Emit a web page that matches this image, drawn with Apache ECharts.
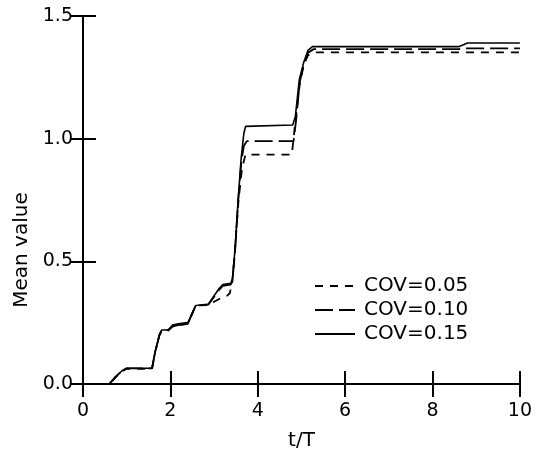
<!DOCTYPE html>
<html>
<head>
<meta charset="utf-8">
<script src="https://cdn.jsdelivr.net/npm/echarts@6/dist/echarts.min.js"></script>
<style>
  html, body { margin: 0; padding: 0; background: #fff; }
  #chart { width: 535px; height: 460px; }
</style>
</head>
<body>
<div id="chart"></div>
<script>
// Mean value versus normalised time t/T for three coefficients of variation
const seriesNames = ['COV=0.05', 'COV=0.10', 'COV=0.15'];

const tCov05 = [0, 0.60, 0.75, 0.90, 1.00, 1.58, 1.65, 1.75, 1.80, 1.95, 2.05, 2.18, 2.40, 2.48, 2.58, 2.62, 2.87, 3.00, 3.15, 3.30, 3.36, 3.42, 3.48, 3.56, 3.64, 3.72, 4.78, 4.86, 4.96, 5.05, 5.15, 5.30, 10];
const vCov05 = [0, 0, 0.028, 0.052, 0.062, 0.062, 0.13, 0.20, 0.215, 0.218, 0.235, 0.24, 0.245, 0.28, 0.32, 0.326, 0.322, 0.335, 0.35, 0.36, 0.37, 0.42, 0.55, 0.75, 0.88, 0.935, 0.935, 1.07, 1.22, 1.30, 1.34, 1.352, 1.352];

const tCov10 = [0, 0.60, 0.75, 0.90, 1.00, 1.58, 1.65, 1.75, 1.80, 1.95, 2.05, 2.18, 2.40, 2.48, 2.58, 2.62, 2.87, 3.00, 3.12, 3.20, 3.38, 3.42, 3.48, 3.55, 3.62, 3.68, 3.75, 4.82, 4.88, 4.96, 5.05, 5.15, 5.28, 8.60, 8.80, 10];
const vCov10 = [0, 0, 0.03, 0.055, 0.064, 0.064, 0.13, 0.20, 0.22, 0.22, 0.235, 0.24, 0.245, 0.28, 0.32, 0.326, 0.324, 0.355, 0.385, 0.40, 0.405, 0.42, 0.54, 0.74, 0.90, 0.97, 0.99, 0.99, 1.08, 1.23, 1.30, 1.35, 1.365, 1.365, 1.368, 1.368];

const tCov15 = [0, 0.60, 0.75, 0.90, 1.00, 1.58, 1.65, 1.75, 1.80, 1.95, 2.05, 2.18, 2.40, 2.48, 2.58, 2.62, 2.87, 3.00, 3.12, 3.20, 3.38, 3.42, 3.48, 3.55, 3.62, 3.68, 3.72, 4.80, 4.86, 4.95, 5.05, 5.15, 5.25, 8.60, 8.80, 10];
const vCov15 = [0, 0, 0.03, 0.055, 0.064, 0.064, 0.13, 0.20, 0.22, 0.22, 0.24, 0.245, 0.25, 0.28, 0.32, 0.328, 0.325, 0.36, 0.39, 0.405, 0.41, 0.43, 0.55, 0.75, 0.92, 1.02, 1.05, 1.056, 1.09, 1.24, 1.31, 1.36, 1.375, 1.375, 1.39, 1.39];

const xTicks = [0, 2, 4, 6, 8, 10];
const yTicks = [0.0, 0.5, 1.0, 1.5];

function pairs(ts, vs) { return ts.map((t, i) => [t, vs[i]]); }

const FONT = 'DejaVu Sans';
const axisLine = { show: true, lineStyle: { color: '#000', width: 2 } };
const axisTick = { show: true, inside: true, length: 13, lineStyle: { color: '#000', width: 2 } };

const chart = echarts.init(document.getElementById('chart'), null, { renderer: 'canvas' });
chart.setOption({
  animation: false,
  backgroundColor: '#fff',
  grid: { left: 83, right: 15, top: 16, bottom: 76 },
  legend: {
    orient: 'vertical',
    left: 309,
    top: 271,
    itemWidth: 40,
    itemHeight: 14,
    itemGap: 4,
    data: seriesNames,
    itemStyle: { opacity: 0 },
    textStyle: { fontFamily: FONT, fontSize: 20, color: '#000', padding: [0, 0, 0, 4] }
  },
  xAxis: [
    {
      type: 'value', min: xTicks[0], max: xTicks[xTicks.length - 1], interval: 2,
      name: 't/T', nameLocation: 'middle', nameGap: 47,
      nameTextStyle: { fontFamily: FONT, fontSize: 20, color: '#000' },
      axisLine, axisTick,
      axisLabel: { fontFamily: FONT, fontSize: 19, color: '#000', margin: 18 },
      splitLine: { show: false }
    },
    {
      type: 'value', position: 'top', min: xTicks[0], max: xTicks[xTicks.length - 1], interval: 2,
      axisLine, axisTick, axisLabel: { show: false }, splitLine: { show: false }
    }
  ],
  yAxis: [
    {
      type: 'value', min: yTicks[0], max: yTicks[yTicks.length - 1], interval: 0.5,
      name: 'Mean value', nameLocation: 'middle', nameGap: 50,
      nameTextStyle: { fontFamily: FONT, fontSize: 20, color: '#000', padding: [0, 100, 0, 0] },
      axisLine, axisTick,
      axisLabel: { fontFamily: FONT, fontSize: 19, color: '#000', margin: 10, formatter: v => v.toFixed(1) },
      splitLine: { show: false }
    },
    {
      type: 'value', position: 'right', min: yTicks[0], max: yTicks[yTicks.length - 1], interval: 0.5,
      axisLine, axisTick, axisLabel: { show: false }, splitLine: { show: false }
    }
  ],
  series: [
    {
      name: seriesNames[0], type: 'line', symbol: 'none', data: pairs(tCov05, vCov05),
      lineStyle: { color: '#000', width: 1.8, type: [8, 7] }, itemStyle: { color: '#000' }
    },
    {
      name: seriesNames[1], type: 'line', symbol: 'none', data: pairs(tCov10, vCov10),
      lineStyle: { color: '#000', width: 1.8, type: [18, 6] }, itemStyle: { color: '#000' }
    },
    {
      name: seriesNames[2], type: 'line', symbol: 'none', data: pairs(tCov15, vCov15),
      lineStyle: { color: '#000', width: 1.6, type: 'solid' }, itemStyle: { color: '#000' }
    }
  ]
});
</script>
</body>
</html>
